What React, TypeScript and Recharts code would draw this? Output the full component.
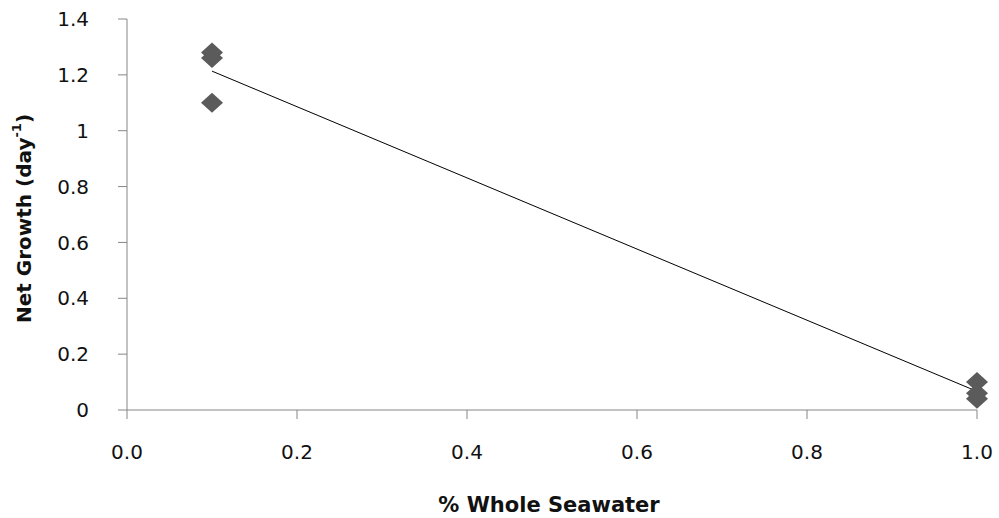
import { ComposedChart, Scatter, Line, XAxis, YAxis } from "recharts";

// % whole seawater in the incubation, one entry per replicate
const seawaterFraction = [0.1, 0.1, 0.1, 1.0, 1.0, 1.0];
// net growth rate (day^-1) for each replicate
const netGrowth = [1.28, 1.26, 1.1, 0.1, 0.06, 0.04];

const xTicks = [0, 0.2, 0.4, 0.6, 0.8, 1.0];
const yTicks = [0, 0.2, 0.4, 0.6, 0.8, 1, 1.2, 1.4];

const points = seawaterFraction.map((x, i) => ({ x, y: netGrowth[i] }));

// least squares trend line through the replicates
const n = points.length;
const meanX = seawaterFraction.reduce((a, b) => a + b, 0) / n;
const meanY = netGrowth.reduce((a, b) => a + b, 0) / n;
let sxy = 0;
let sxx = 0;
points.forEach((p) => {
  sxy += (p.x - meanX) * (p.y - meanY);
  sxx += (p.x - meanX) * (p.x - meanX);
});
const slope = sxy / sxx;
const intercept = meanY - slope * meanX;
const xMin = Math.min(...seawaterFraction);
const xMax = Math.max(...seawaterFraction);
const trend = [
  { x: xMin, y: intercept + slope * xMin },
  { x: xMax, y: intercept + slope * xMax },
];

const axisGrey = "#868686";
const font = "'DejaVu Sans', sans-serif";

const Diamond = (props: any) => {
  const { cx, cy } = props;
  if (cx == null || cy == null) return null;
  return (
    <polygon
      points={`${cx},${cy - 10} ${cx + 11},${cy} ${cx},${cy + 10} ${cx - 11},${cy}`}
      fill="#5b5b5b"
    />
  );
};

const yTitle = (props: any) => {
  const { x, y, height } = props.viewBox;
  const cx = x + 24;
  const cy = y + height / 2 + 4;
  return (
    <text
      x={cx}
      y={cy}
      transform={`rotate(-90, ${cx}, ${cy})`}
      textAnchor="middle"
      dominantBaseline="central"
      fontFamily={font}
      fontWeight="bold"
      fontSize={20}
      fill="#111"
    >
      Net Growth (day
      <tspan baselineShift="super" fontSize={13}>-1</tspan>
      )
    </text>
  );
};

const xTitle = (props: any) => {
  const { x, y, width } = props.viewBox;
  return (
    <text
      x={x + width / 2 - 3}
      y={y + 102}
      textAnchor="middle"
      fontFamily={font}
      fontWeight="bold"
      fontSize={21}
      fill="#111"
    >
      % Whole Seawater
    </text>
  );
};

export default function App() {
  return (
    <div style={{ position: "absolute", left: 0, top: 0, background: "#fff" }}>
      <ComposedChart
        width={999}
        height={518}
        margin={{ top: 19, right: 22, left: 0, bottom: 0 }}
      >
        <XAxis
          type="number"
          dataKey="x"
          domain={[0, 1]}
          ticks={xTicks}
          tickFormatter={(v: number) => v.toFixed(1)}
          height={108}
          stroke={axisGrey}
          tickSize={9}
          tickMargin={26}
          tick={{ fill: "#111", fontSize: 20, fontFamily: font }}
          label={{ content: xTitle }}
        />
        <YAxis
          type="number"
          dataKey="y"
          domain={[0, 1.4]}
          ticks={yTicks}
          width={127}
          stroke={axisGrey}
          tickSize={9}
          tickMargin={29}
          tick={{ fill: "#111", fontSize: 20, fontFamily: font }}
          label={{ content: yTitle }}
        />
        <Line
          data={trend}
          dataKey="y"
          type="linear"
          stroke="#000"
          strokeWidth={1}
          dot={false}
          activeDot={false}
          isAnimationActive={false}
        />
        <Scatter
          data={points}
          dataKey="y"
          shape={Diamond}
          isAnimationActive={false}
        />
      </ComposedChart>
    </div>
  );
}
